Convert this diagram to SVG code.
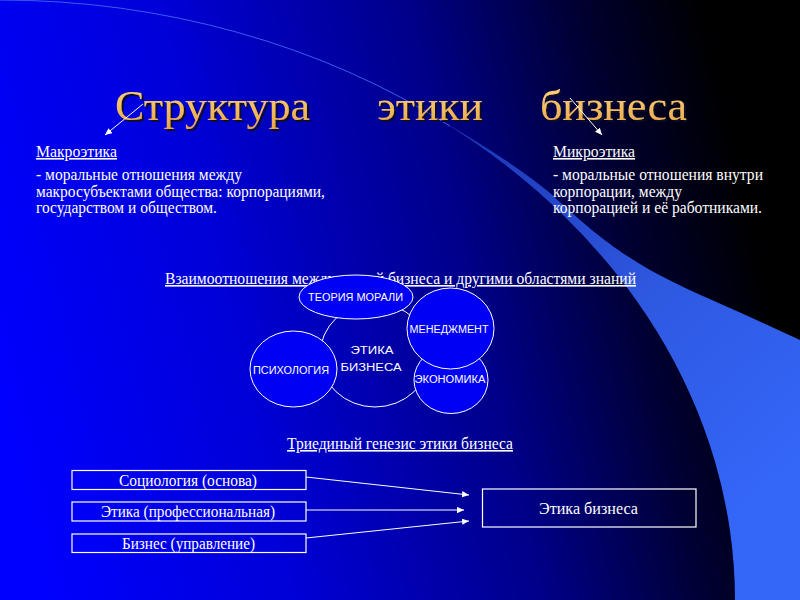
<svg xmlns="http://www.w3.org/2000/svg" width="800" height="600" viewBox="0 0 800 600">
  <defs>
    <linearGradient id="bg" gradientUnits="userSpaceOnUse" x1="0" y1="420" x2="800" y2="240">
      <stop offset="0" stop-color="#0000ff"/>
      <stop offset="0.3" stop-color="#0000d8"/>
      <stop offset="0.6" stop-color="#000088"/>
      <stop offset="0.8" stop-color="#000030"/>
      <stop offset="0.95" stop-color="#000000"/>
    </linearGradient>
    <linearGradient id="band" gradientUnits="userSpaceOnUse" x1="470" y1="140" x2="780" y2="480">
      <stop offset="0" stop-color="#1c38b8"/>
      <stop offset="0.5" stop-color="#2e58e0"/>
      <stop offset="1" stop-color="#3466f8"/>
    </linearGradient>
    <linearGradient id="gold" x1="0" y1="0" x2="0" y2="1">
      <stop offset="0" stop-color="#ffd880"/>
      <stop offset="1" stop-color="#e8a448"/>
    </linearGradient>
    <filter id="shadow" x="-10%" y="-20%" width="130%" height="150%">
      <feDropShadow dx="2" dy="2" stdDeviation="0.6" flood-color="#080828" flood-opacity="1"/>
    </filter>
    <marker id="ah" viewBox="0 0 10 10" refX="10" refY="5" markerWidth="7" markerHeight="7" orient="auto" markerUnits="userSpaceOnUse">
      <path d="M0,0.5 L10,5 L0,9.5 z" fill="#ffffff"/>
    </marker>
    <style>
      .t { font-family: "Liberation Serif", "Times New Roman", serif; fill: #ffffff; font-size: 16px; }
      .u { text-decoration: underline; }
      .title { font-family: "Liberation Serif", "Times New Roman", serif; font-size: 42px; fill: url(#gold); filter: url(#shadow); }
      .s { font-family: "Liberation Sans", Arial, sans-serif; fill: #ffffff; font-size: 10px; text-anchor: middle; }
      .el { fill: #0000f2; stroke: #ffffff; stroke-width: 1; }
      .box { fill: none; stroke: #ffffff; stroke-width: 1.2; }
      .ln { stroke: #ffffff; stroke-width: 1; fill: none; }
    </style>
  </defs>

  <!-- background -->
  <rect x="0" y="0" width="800" height="600" fill="url(#bg)"/>
  <path d="M440,120 A735,600 0 0 1 735,600 L800,600 L800,340 L750,317 C720,303 680,287 650,270 C615,250 590,230 550,193 C520,168 480,143 440,120 Z" fill="url(#band)"/>
  <path d="M0,0 A735,600 0 0 1 450,126" fill="none" stroke="#3a5cf0" stroke-width="1"/>

  <!-- title -->
  <g id="title">
    <text class="title" x="115" y="120" textLength="195" lengthAdjust="spacingAndGlyphs">Структура</text>
    <text class="title" x="377" y="120" textLength="106" lengthAdjust="spacingAndGlyphs">этики</text>
    <text class="title" x="540" y="120" textLength="147" lengthAdjust="spacingAndGlyphs">бизнеса</text>
  </g>

  <!-- macro -->
  <g id="macro">
    <text class="t u" x="36" y="157" textLength="81" lengthAdjust="spacingAndGlyphs">Макроэтика</text>
    <text class="t" x="36" y="180" textLength="206" lengthAdjust="spacingAndGlyphs">- моральные отношения между</text>
    <text class="t" x="36" y="197" textLength="289" lengthAdjust="spacingAndGlyphs">макросубъектами общества: корпорациями,</text>
    <text class="t" x="36" y="213" textLength="181" lengthAdjust="spacingAndGlyphs">государством и обществом.</text>
  </g>

  <!-- micro -->
  <g id="micro">
    <text class="t u" x="553" y="157" textLength="82" lengthAdjust="spacingAndGlyphs">Микроэтика</text>
    <text class="t" x="553" y="180" textLength="210" lengthAdjust="spacingAndGlyphs">- моральные отношения внутри</text>
    <text class="t" x="553" y="197" textLength="129" lengthAdjust="spacingAndGlyphs">корпорации, между</text>
    <text class="t" x="553" y="213" textLength="209" lengthAdjust="spacingAndGlyphs">корпорацией и её работниками.</text>
  </g>

  <!-- relations heading -->
  <g id="relations-heading">
    <text class="t u" x="165" y="284" textLength="471" lengthAdjust="spacingAndGlyphs">Взаимоотношения между этикой бизнеса и другими областями знаний</text>
  </g>

  <!-- bubbles -->
  <g id="ethics-core">
    <ellipse cx="375" cy="355" rx="55" ry="52" fill="none" stroke="#ffffff" stroke-width="1"/>
    <text class="s" x="372" y="354" font-size="11.5" textLength="43" lengthAdjust="spacingAndGlyphs">ЭТИКА</text>
    <text class="s" x="371" y="371" font-size="11.5" textLength="61" lengthAdjust="spacingAndGlyphs">БИЗНЕСА</text>
  </g>
  <g id="psychology">
    <ellipse class="el" cx="293.5" cy="369" rx="43.5" ry="38"/>
    <text class="s" x="291" y="374" textLength="76" lengthAdjust="spacingAndGlyphs">ПСИХОЛОГИЯ</text>
  </g>
  <g id="economics">
    <ellipse class="el" cx="451" cy="380" rx="37" ry="33.5"/>
    <text class="s" x="450" y="383" textLength="71" lengthAdjust="spacingAndGlyphs">ЭКОНОМИКА</text>
  </g>
  <g id="management">
    <ellipse class="el" cx="450.5" cy="328.5" rx="43.5" ry="40.5"/>
    <text class="s" x="449" y="333" textLength="79" lengthAdjust="spacingAndGlyphs">МЕНЕДЖМЕНТ</text>
  </g>
  <g id="moral-theory">
    <ellipse class="el" cx="356" cy="297" rx="57" ry="22"/>
    <text class="s" x="355.5" y="301" textLength="95" lengthAdjust="spacingAndGlyphs">ТЕОРИЯ МОРАЛИ</text>
  </g>

  <!-- genesis heading -->
  <g id="genesis-heading">
    <text class="t u" x="287" y="449" textLength="226" lengthAdjust="spacingAndGlyphs">Триединый генезис этики бизнеса</text>
  </g>

  <g id="sociology">
    <rect class="box" x="72" y="470.5" width="234" height="19"/>
    <text class="t" x="119" y="486" textLength="138" lengthAdjust="spacingAndGlyphs">Социология (основа)</text>
  </g>
  <g id="ethics-prof">
    <rect class="box" x="72" y="502" width="234" height="19"/>
    <text class="t" x="101" y="517" textLength="174" lengthAdjust="spacingAndGlyphs">Этика (профессиональная)</text>
  </g>
  <g id="business">
    <rect class="box" x="72" y="534" width="234" height="18.5"/>
    <text class="t" x="122" y="549" textLength="133" lengthAdjust="spacingAndGlyphs">Бизнес (управление)</text>
  </g>
  <g id="business-ethics">
    <rect class="box" x="482.5" y="489" width="213.5" height="38"/>
    <text class="t" x="539" y="514" textLength="99" lengthAdjust="spacingAndGlyphs">Этика  бизнеса</text>
  </g>

  <!-- connectors -->
  <g id="connectors">
    <line class="ln" x1="143" y1="104" x2="105" y2="135" marker-end="url(#ah)"/>
    <line class="ln" x1="570" y1="98" x2="602" y2="135" marker-end="url(#ah)"/>
    <line class="ln" x1="306" y1="477" x2="469" y2="495" marker-end="url(#ah)"/>
    <line class="ln" x1="306" y1="510" x2="464" y2="510" marker-end="url(#ah)"/>
    <line class="ln" x1="306" y1="538" x2="469" y2="521" marker-end="url(#ah)"/>
  </g>
</svg>
